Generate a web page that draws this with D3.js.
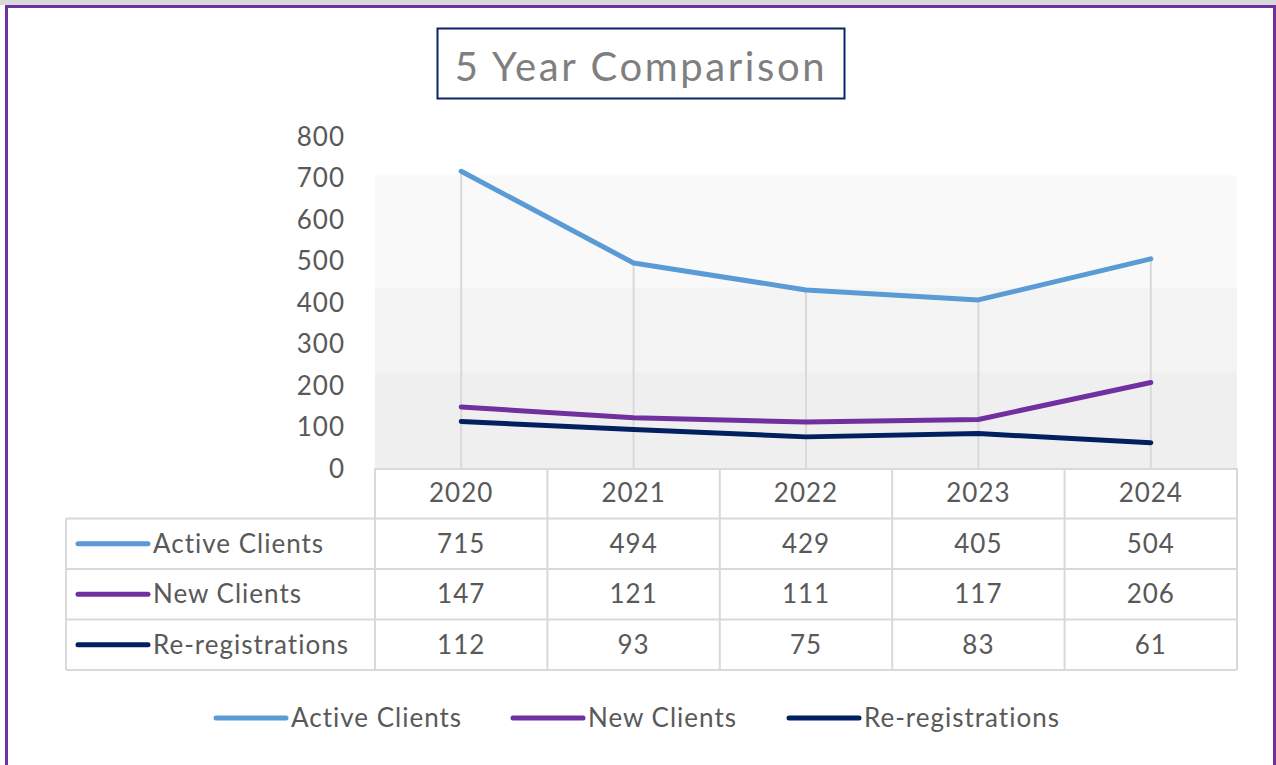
<!DOCTYPE html>
<html>
<head>
    <meta charset="utf-8">
    <title>5 Year Comparison</title>
    <style>
        body { margin: 0; background: #fff; }
        text { font-family: Lato, "Open Sans", sans-serif; fill: #595959; letter-spacing: 1px; }
    </style>
</head>
<body>
    <svg width="1276" height="765"></svg>
    <script src="https://cdnjs.cloudflare.com/ajax/libs/d3/7.8.5/d3.min.js"></script>
    <script>
        // datos
        const years = ["2020", "2021", "2022", "2023", "2024"];
        const seriesNames = ["Active Clients", "New Clients", "Re-registrations"];
        const activeClients = [715, 494, 429, 405, 504];
        const newClients = [147, 121, 111, 117, 206];
        const reRegistrations = [112, 93, 75, 83, 61];
        const yTicks = [0, 100, 200, 300, 400, 500, 600, 700, 800];
        const colors = ["#5b9bd5", "#7030a0", "#002060"];

        const series = seriesNames.map((name, i) => ({
            name: name,
            color: colors[i],
            values: [activeClients, newClients, reRegistrations][i]
        }));

        const svg = d3.select("svg");

        // marco de la pagina
        svg.append("rect").attr("x", 0).attr("y", 0).attr("width", 1276).attr("height", 5).attr("fill", "#d9d9d9");
        svg.append("rect").attr("x", 6.5).attr("y", 6.5).attr("width", 1268).attr("height", 770)
            .attr("fill", "none").attr("stroke", "#7030a0").attr("stroke-width", 3);

        // titulo
        svg.append("rect").attr("x", 437.5).attr("y", 28.5).attr("width", 407).attr("height", 70)
            .attr("fill", "#fff").attr("stroke", "#0b2466").attr("stroke-width", 2);
        svg.append("text").attr("x", 641).attr("y", 81).attr("text-anchor", "middle")
            .style("font-size", "40px").style("letter-spacing", "2.6px").style("fill", "#7f7f7f")
            .text("5 Year Comparison");

        const margin = { left: 375, right: 1237, top: 136, bottom: 468 };
        const x = d3.scaleBand().domain(years).range([margin.left, margin.right]);
        const y = d3.scaleLinear().domain([0, 800]).range([margin.bottom, margin.top]);

        // fondo degradado del area de trazado
        const bands = [[705, 434, "#f9f9f9"], [434, 231, "#f4f4f4"], [231, 0, "#efefef"]];
        svg.append("g").selectAll("rect").data(bands).enter().append("rect")
            .attr("x", margin.left).attr("width", margin.right - margin.left)
            .attr("y", d => y(d[0])).attr("height", d => y(d[1]) - y(d[0]))
            .attr("fill", d => d[2]);

        // eje y
        const yAxis = d3.axisLeft(y).tickValues(yTicks).tickSize(0).tickPadding(0);
        const gy = svg.append("g").attr("transform", "translate(345,0)").call(yAxis);
        gy.select(".domain").remove();
        gy.selectAll("text").style("font-size", "26px").attr("font-family", null).attr("fill", null).attr("dy", "0.36em");

        // lineas de caida
        const maxes = years.map((yr, i) => d3.max(series, s => s.values[i]));
        svg.append("g").selectAll("line").data(years).enter().append("line")
            .attr("x1", d => x(d) + x.bandwidth() / 2).attr("x2", d => x(d) + x.bandwidth() / 2)
            .attr("y1", (d, i) => y(maxes[i])).attr("y2", y(0))
            .attr("stroke", "#d9d9d9").attr("stroke-width", 2);

        // lineas de datos
        const line = d3.line()
            .x((d, i) => x(years[i]) + x.bandwidth() / 2)
            .y(d => y(d));
        svg.append("g").selectAll("path").data(series).enter().append("path")
            .attr("d", d => line(d.values))
            .attr("fill", "none").attr("stroke", d => d.color).attr("stroke-width", 5)
            .attr("stroke-linejoin", "round").attr("stroke-linecap", "round");

        // tabla de datos
        const rowH = 50.5;
        const table = svg.append("g");
        const headTop = margin.bottom;
        const rowsTop = headTop + rowH;
        const tableLeft = 66;
        const gridColor = "#d9d9d9";
        // bordes horizontales
        table.append("line").attr("x1", margin.left).attr("x2", margin.right).attr("y1", headTop + 1).attr("y2", headTop + 1)
            .attr("stroke", gridColor).attr("stroke-width", 2);
        for (let r = 0; r <= series.length; r++) {
            table.append("line").attr("x1", tableLeft).attr("x2", margin.right)
                .attr("y1", rowsTop + r * rowH).attr("y2", rowsTop + r * rowH)
                .attr("stroke", gridColor).attr("stroke-width", 2);
        }
        // bordes verticales
        const colEdges = years.map(d => x(d)).concat([margin.right]);
        colEdges.forEach(cx => {
            table.append("line").attr("x1", cx).attr("x2", cx).attr("y1", headTop).attr("y2", rowsTop + series.length * rowH)
                .attr("stroke", gridColor).attr("stroke-width", 2);
        });
        table.append("line").attr("x1", tableLeft).attr("x2", tableLeft).attr("y1", rowsTop).attr("y2", rowsTop + series.length * rowH)
            .attr("stroke", gridColor).attr("stroke-width", 2);

        // encabezados de año
        table.selectAll(".year").data(years).enter().append("text")
            .attr("x", d => x(d) + x.bandwidth() / 2).attr("y", headTop + rowH / 2 + 9)
            .attr("text-anchor", "middle").style("font-size", "26px").text(d => d);

        // filas
        series.forEach((s, r) => {
            const cy = rowsTop + r * rowH + rowH / 2;
            table.append("line").attr("x1", 78).attr("x2", 148).attr("y1", cy).attr("y2", cy)
                .attr("stroke", s.color).attr("stroke-width", 5).attr("stroke-linecap", "round");
            table.append("text").attr("x", 153).attr("y", cy + 9).style("font-size", "26px").text(s.name);
            table.selectAll(".v" + r).data(s.values).enter().append("text")
                .attr("x", (d, i) => x(years[i]) + x.bandwidth() / 2).attr("y", cy + 9)
                .attr("text-anchor", "middle").style("font-size", "26px").text(d => d);
        });

        // leyenda
        const legendX = [216, 513, 789];
        const legend = svg.append("g").selectAll("g").data(series).enter().append("g")
            .attr("transform", (d, i) => "translate(" + legendX[i] + ",718)");
        legend.append("line").attr("x1", 0).attr("x2", 70).attr("y1", 0).attr("y2", 0)
            .attr("stroke", d => d.color).attr("stroke-width", 5).attr("stroke-linecap", "round");
        legend.append("text").attr("x", 75).attr("y", 9).style("font-size", "26px").text(d => d.name);
    </script>
</body>
</html>
